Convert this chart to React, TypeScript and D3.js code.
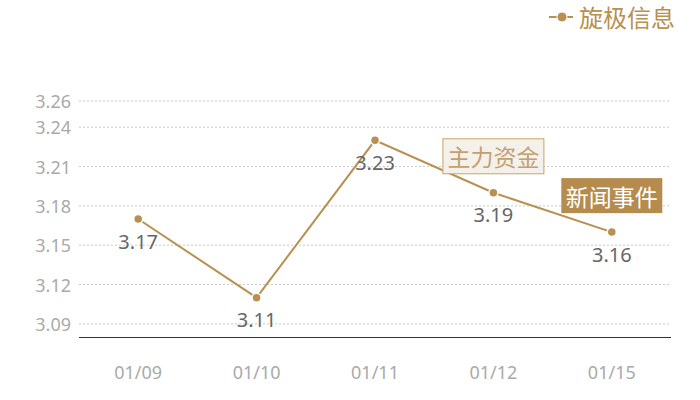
import React from "react";
import * as d3 from "d3";

const categories = ["01/09", "01/10", "01/11", "01/12", "01/15"];
const values = [3.17, 3.11, 3.23, 3.19, 3.16];
const yTicks = [3.09, 3.12, 3.15, 3.18, 3.21, 3.24, 3.26];
const seriesName = "旋极信息";
const annotations = [
  { category: "01/12", text: "主力资金", filled: false },
  { category: "01/15", text: "新闻事件", filled: true },
];

const W = 700;
const H = 400;
const M = { left: 79, right: 29, top: 0, bottom: 63 };
const GOLD = "#b8904f";
const FONT = "'Noto Sans', 'Noto Sans CJK SC', sans-serif";

export default function App() {
  const x = d3
    .scaleBand<string>()
    .domain(categories)
    .range([M.left, W - M.right])
    .padding(0);
  const y = d3.scaleLinear().domain([3.08, 3.26]).range([337, 101]);
  const cx = (c: string) => (x(c) as number) + x.bandwidth() / 2;
  const line = d3
    .line<number>()
    .x((_, i) => cx(categories[i]))
    .y((v) => y(v));

  return (
    <svg
      width={W}
      height={H}
      style={{ position: "absolute", left: 0, top: 0, fontFamily: FONT }}
    >
      <rect width={W} height={H} fill="#fff" />
      {yTicks.map((t) => (
        <g key={t}>
          <line
            x1={M.left}
            x2={W - M.right}
            y1={y(t)}
            y2={y(t)}
            stroke="#c8c8c8"
            strokeDasharray="2,2"
            strokeWidth={1}
          />
          <text
            x={71}
            y={y(t)}
            textAnchor="end"
            dominantBaseline="central"
            fontSize={18}
            fill="#aaaaaa"
          >
            {t.toFixed(2)}
          </text>
        </g>
      ))}
      <line
        x1={M.left}
        x2={W - M.right}
        y1={337.5}
        y2={337.5}
        stroke="#333"
        strokeWidth={1}
      />
      {categories.map((c) => (
        <text
          key={c}
          x={cx(c)}
          y={372}
          textAnchor="middle"
          dominantBaseline="central"
          fontSize={18}
          fill="#aaaaaa"
        >
          {c}
        </text>
      ))}
      <path d={line(values) || ""} fill="none" stroke={GOLD} strokeWidth={2} />
      {values.map((v, i) => (
        <circle
          key={i}
          cx={cx(categories[i])}
          cy={y(v)}
          r={4.5}
          fill={GOLD}
          stroke="#fff"
          strokeWidth={1.5}
        />
      ))}
      {values.map((v, i) => (
        <text
          key={"l" + i}
          x={cx(categories[i])}
          y={y(v) + 22}
          textAnchor="middle"
          dominantBaseline="central"
          fontSize={20}
          fill="#666666"
        >
          {v.toFixed(2)}
        </text>
      ))}
      {annotations.map((a) => {
        const i = categories.indexOf(a.category);
        const px = cx(a.category);
        const py = y(values[i]) - 36.5;
        return (
          <g key={a.text}>
            <rect
              x={px - 50.5}
              y={py - 17.5}
              width={101}
              height={35}
              fill={a.filled ? "#b58c4e" : "#f4f0ea"}
              stroke={a.filled ? "none" : "#c9a46a"}
              strokeWidth={1}
            />
            <text
              x={px}
              y={py + 1}
              textAnchor="middle"
              dominantBaseline="central"
              fontSize={23}
              fill={a.filled ? "#ffffff" : "#c3a070"}
            >
              {a.text}
            </text>
          </g>
        );
      })}
      <g>
        <line x1={549} x2={573} y1={17} y2={17} stroke={GOLD} strokeWidth={2} />
        <circle cx={562} cy={17} r={5} fill={GOLD} stroke="#fff" strokeWidth={1} />
        <text
          x={579}
          y={17}
          dominantBaseline="central"
          fontSize={24}
          fill="#b8904f"
        >
          {seriesName}
        </text>
      </g>
    </svg>
  );
}
